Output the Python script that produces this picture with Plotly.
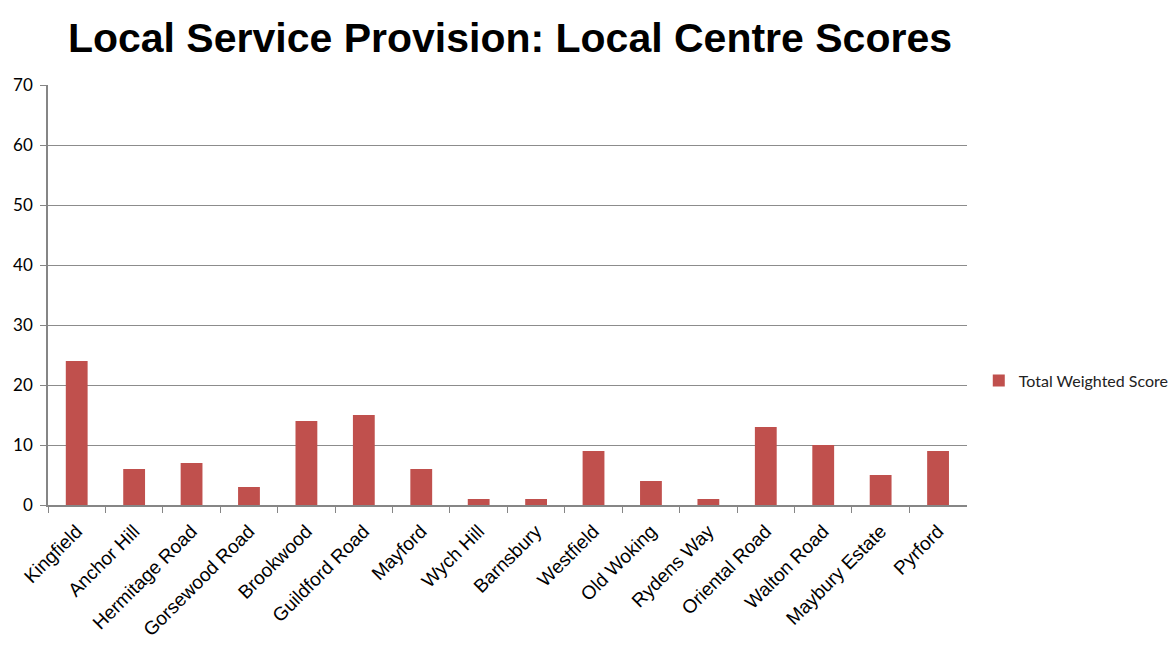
import plotly.graph_objects as go

categories = ["Kingfield", "Anchor Hill", "Hermitage Road", "Gorsewood Road", "Brookwood",
              "Guildford Road", "Mayford", "Wych Hill", "Barnsbury", "Westfield",
              "Old Woking", "Rydens Way", "Oriental Road", "Walton Road", "Maybury Estate", "Pyrford"]
scores = [24, 6, 7, 3, 14, 15, 6, 1, 1, 9, 4, 1, 13, 10, 5, 9]
y_ticks = [0, 10, 20, 30, 40, 50, 60, 70]

fig = go.Figure()
fig.add_trace(go.Bar(x=categories, y=scores, name="Total Weighted Score",
                     marker=dict(color="#C0504D", line=dict(width=0))))

fig.update_layout(
    width=1175, height=662,
    paper_bgcolor="white", plot_bgcolor="white",
    margin=dict(l=48, r=200, t=85, b=157),
    title=dict(text="<b>Local Service Provision: Local Centre Scores</b>",
               x=0.434, xanchor="center", y=0.943, yanchor="middle",
               font=dict(family="Liberation Sans Narrow, Arial Narrow, Liberation Sans, Arial", size=41, color="black")),
    bargap=0.62,
    showlegend=True,
    legend=dict(xref="container", yref="container", x=0.833, xanchor="left", y=0.425, yanchor="middle",
                font=dict(family="Lato, Carlito, Calibri, sans-serif", size=16, color="#222"),
                itemwidth=30),
    xaxis=dict(showline=True, linecolor="#868686", linewidth=1.5,
               ticks="outside", tickson="boundaries", ticklen=6, tickcolor="#868686",
               tickangle=-45, tickfont=dict(family="Liberation Sans, Arial", size=19, color="black"),
               ticklabelstandoff=6, showgrid=False),
    yaxis=dict(range=[0, 70], tickvals=y_ticks, showline=True, linecolor="#868686", linewidth=1.5,
               ticks="outside", ticklen=6, tickcolor="#868686",
               showgrid=True, gridcolor="#8c8c8c", gridwidth=1, zeroline=False,
               ticklabelstandoff=4,
               tickfont=dict(family="Lato, Carlito, Calibri, sans-serif", size=17, color="black")),
)

fig.write_html("out.html")
